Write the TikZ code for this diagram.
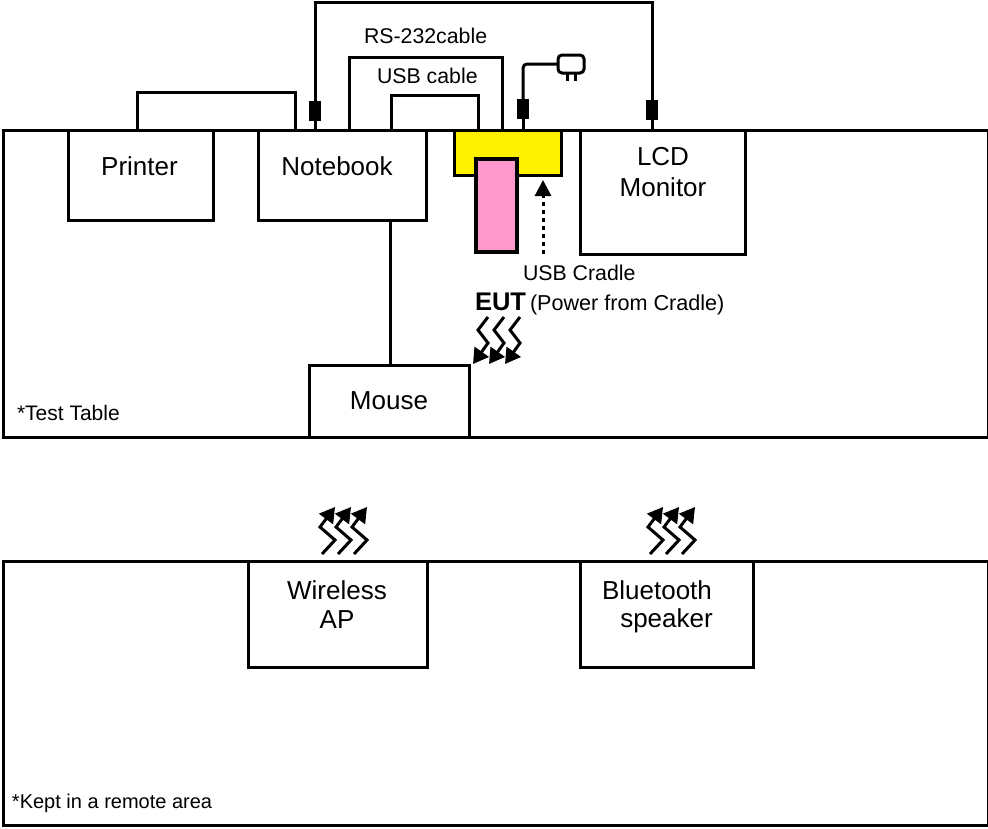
\documentclass[tikz,border=0pt]{standalone}
\usepackage{fontspec}
\setmainfont{Liberation Sans}
\usetikzlibrary{arrows.meta}
\newcommand{\bigtxt}{\fontsize{26}{30}\selectfont}
\newcommand{\smalltxt}{\fontsize{21.3}{25}\selectfont}
\definecolor{eutpink}{RGB}{255,153,204}
\tikzset{
  wire/.style={draw=black,line width=3pt},
  box/.style={draw=black,line width=3pt,fill=white,rectangle,inner sep=0pt,outer sep=0pt},
  lbl/.style={inner sep=0pt,outer sep=0pt,font=\bigtxt,align=center},
  sml/.style={inner sep=0pt,outer sep=0pt,font=\smalltxt,anchor=base west},
  ferrite/.style={fill=black,draw=none,rectangle,minimum width=12pt,minimum height=20pt,inner sep=0pt,outer sep=0pt},
  zig/.style={draw=black,line width=3pt,-{Triangle[length=15pt,width=17pt]},line join=miter},
}
\begin{document}
\begin{tikzpicture}[x=1pt,y=-1pt]
\useasboundingbox (0,0) rectangle (988,828);
% tables
\node[box,minimum width=985pt,minimum height=307pt] (table1) at (495.5,283.5) {};
\node[box,minimum width=985pt,minimum height=264pt] (table2) at (495.5,693) {};
% devices
\node[box,minimum width=145pt,minimum height=90pt] (printer) at (140.5,175) {};
\node[box,minimum width=168pt,minimum height=90pt] (notebook) at (342,175) {};
\node[box,minimum width=165pt,minimum height=124pt] (lcd) at (662.5,192) {};
\node[box,minimum width=160pt,minimum height=72pt] (mouse) at (389,401) {};
\node[box,minimum width=179pt,minimum height=106pt] (ap) at (337.5,614) {};
\node[box,minimum width=173pt,minimum height=106pt] (bt) at (666.5,614) {};
\node[box,fill=yellow,minimum width=107pt,minimum height=45pt] (cradle) at (507.5,152.5) {};
\node[box,fill=eutpink,line width=4.5pt,minimum width=41pt,minimum height=93pt] (eut) at (496.5,205.5) {};
% labels
\node[lbl] (tprinter) at (139.5,166) {Printer};
\node[lbl] (tnotebook) at (337,166) {Notebook};
\node[lbl] (tlcd1) at (663,157) {LCD};
\node[lbl] (tlcd2) at (663,187) {Monitor};
\node[lbl] (tmouse) at (389,401) {Mouse};
\node[lbl] (tap1) at (337,590) {Wireless};
\node[lbl] (tap2) at (337,620) {AP};
\node[lbl] (tbt1) at (657,590) {Bluetooth};
\node[lbl] (tbt2) at (666.5,621) {speaker};
\node[sml] (trs) at (364,43) {RS-232cable};
\node[sml] (tusb) at (377,83) {USB cable};
\node[sml] (tcradle) at (523,280) {USB Cradle};
\node[sml,font=\fontsize{25.5}{28}\selectfont\bfseries] (teut) at (475,310) {EUT};
\node[sml,font=\fontsize{21.6}{25}\selectfont] (tpower) at (530,310) {(Power from Cradle)};
\node[sml,font=\fontsize{21}{24}\selectfont] (ttest) at (17,420) {*Test Table};
\node[sml,font=\fontsize{20}{24}\selectfont] (tkept) at (12,808) {*Kept in a remote area};
% ports
\coordinate (pPrinter) at (137,130);
\coordinate (pNbPrinter) at (295,130);
\coordinate (pNbMon) at (315,130);
\coordinate (pLcdMon) at (652,130);
\coordinate (pNbRs) at (349,130);
\coordinate (pCrRs) at (502,130);
\coordinate (pNbUsb) at (391,130);
\coordinate (pCrUsb) at (478,130);
\coordinate (pCrPow) at (523,130);
\coordinate (pNbMouse) at (390,220);
\coordinate (pMouseNb) at (390,365);
\coordinate (prongA) at (567,73);
\coordinate (prongB) at (575,73);
% cables
\draw[wire] (pPrinter) -- ++(0,-38) -| (pNbPrinter);
\draw[wire] (pNbRs) -- ++(0,-73) -| (pCrRs);
\draw[wire] (pNbUsb) -- ++(0,-35) -| (pCrUsb);
\node[ferrite] (fMon1) at (315,111) {};
\node[ferrite] (fMon2) at (652,110) {};
\node[ferrite] (fPow) at (523,109) {};
\draw[wire] (pNbMon) -- (fMon1.south);
\draw[wire] (fMon1.north) -- (315,2) -| (fMon2.north);
\draw[wire] (fMon2.south) -- (pLcdMon);
\draw[wire] (pCrPow) -- (fPow.south);
\node[box,rounded corners=4pt,minimum width=26pt,minimum height=18pt] (plug) at (571,64) {};
\draw[wire,rounded corners=4pt] (fPow.north) |- (plug.west);
\draw[wire] (prongA) -- ++(0,8) (prongB) -- ++(0,8);
\draw[wire] (pNbMouse) -- (pMouseNb);
% dotted arrow
\coordinate (dotStart) at (543,254);
\coordinate (dotEnd) at (543,180);
\draw[draw=black,line width=3pt,dash pattern=on 4pt off 4pt,-{Triangle[length=16pt,width=16pt]}] (dotStart) -- (dotEnd);
% wireless arrows
\foreach \d in {0,16,32}{
  \draw[zig] (488+\d,317) -- (478+\d,330) -- (488+\d,343) -- (473+\d,364);
  \draw[zig] (322+\d,554) -- (335+\d,540) -- (320+\d,527) -- (335+\d,507);
  \draw[zig] (650+\d,554) -- (663+\d,540) -- (648+\d,527) -- (663+\d,507);
}
\end{tikzpicture}
\end{document}
